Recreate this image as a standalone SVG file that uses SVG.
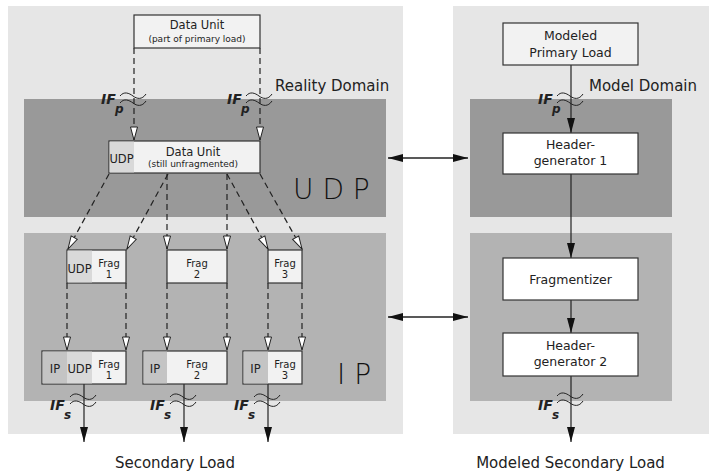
<svg xmlns="http://www.w3.org/2000/svg" width="709" height="472" viewBox="0 0 709 472">
<style>
text{font-family:"DejaVu Sans","Liberation Sans",sans-serif;fill:#222}
.panel{fill:#e6e6e6}
.udpband{fill:#999}
.ipband{fill:#b3b3b3}
.box{fill:#f2f2f2;stroke:#333;stroke-width:1.2}
.wbox{fill:#fff;stroke:#333;stroke-width:1.2}
.cudp{fill:#d9d9d9}
.cip{fill:#c4c4c4}
.t12{font-size:11.5px;text-anchor:middle}
.t9{font-size:9px;text-anchor:middle}
.tf{font-size:10px;text-anchor:middle}
.tr{font-size:12.5px;text-anchor:middle}
.big{font-size:28px;font-weight:200;fill:#111}
.dom{font-size:15px}
.if{font-size:14px;font-weight:bold;font-style:italic}
.sub{font-size:12px;font-weight:bold;font-style:italic}
.dash{fill:none;stroke:#222;stroke-width:1.2;stroke-dasharray:6,4;marker-end:url(#hollow)}
.solid{fill:none;stroke:#222;stroke-width:1.2;marker-end:url(#solid)}
.dbl{fill:none;stroke:#222;stroke-width:1.6;marker-end:url(#solid);marker-start:url(#solidS)}
.sq{fill:none;stroke:#222;stroke-width:1}
</style>
<defs>
<marker id="hollow" markerUnits="userSpaceOnUse" markerWidth="15" markerHeight="9" refX="13.5" refY="4.5" orient="auto" overflow="visible"><path d="M0.5,1 L13.5,4.5 L0.5,8 z" fill="#fff" stroke="#222" stroke-width="1"/></marker>
<marker id="solid" markerUnits="userSpaceOnUse" markerWidth="16" markerHeight="8" refX="15" refY="4" orient="auto" overflow="visible"><path d="M0,0 L15,4 L0,8 z" fill="#111"/></marker>
<marker id="solidS" markerUnits="userSpaceOnUse" markerWidth="16" markerHeight="8" refX="0" refY="4" orient="auto" overflow="visible"><path d="M15,0 L0,4 L15,8 z" fill="#111"/></marker>
<path id="sq" class="sq" d="M-14,-3 C-10,-8 -5,-6 -1,-3 S8,1 12,-5 M-14,4 C-10,-1 -5,1 -1,4 S8,8 12,2"/>
</defs>

<g id="reality-domain">
<rect class="panel" x="8" y="6" width="395" height="428"/>
<rect class="udpband" x="24" y="99" width="362" height="118"/>
<rect class="ipband" x="24" y="233" width="362" height="168"/>
<text class="dom" x="275" y="91">Reality Domain</text>
<text class="big" x="293" y="199">U D P</text>
<text class="big" x="337" y="384">I P</text>
</g>

<g id="model-domain">
<rect class="panel" x="453" y="6" width="256" height="428"/>
<rect class="udpband" x="470" y="99" width="202" height="118"/>
<rect class="ipband" x="470" y="233" width="202" height="168"/>
<text class="dom" x="589" y="91">Model Domain</text>
</g>

<g id="connectors">
<line class="dash" x1="134" y1="48" x2="134" y2="140"/>
<line class="dash" x1="260" y1="48" x2="260" y2="140"/>
<line class="dash" x1="109" y1="174" x2="68" y2="249"/>
<line class="dash" x1="168" y1="174" x2="127" y2="249"/>
<line class="dash" x1="167" y1="174" x2="167" y2="249"/>
<line class="dash" x1="227" y1="174" x2="227" y2="249"/>
<line class="dash" x1="227" y1="174" x2="268" y2="249"/>
<line class="dash" x1="260" y1="174" x2="302" y2="249"/>
<line class="dash" x1="67" y1="283" x2="67" y2="350"/>
<line class="dash" x1="126" y1="283" x2="126" y2="350"/>
<line class="dash" x1="167" y1="283" x2="167" y2="350"/>
<line class="dash" x1="227" y1="283" x2="227" y2="350"/>
<line class="dash" x1="268" y1="283" x2="268" y2="350"/>
<line class="dash" x1="302" y1="283" x2="302" y2="350"/>
<line class="solid" x1="84" y1="384" x2="84" y2="442"/>
<line class="solid" x1="184" y1="384" x2="184" y2="442"/>
<line class="solid" x1="268" y1="384" x2="268" y2="442"/>
<line class="solid" x1="571" y1="65" x2="571" y2="133"/>
<line class="solid" x1="571" y1="174" x2="571" y2="258"/>
<line class="solid" x1="571" y1="300" x2="571" y2="333"/>
<line class="solid" x1="571" y1="376" x2="571" y2="442"/>
<line class="dbl" x1="388" y1="158" x2="468" y2="158"/>
<line class="dbl" x1="388" y1="317" x2="468" y2="317"/>
<use href="#sq" x="134" y="99"/>
<use href="#sq" x="260" y="99"/>
<use href="#sq" x="571" y="99"/>
<use href="#sq" x="84" y="400"/>
<use href="#sq" x="184" y="400"/>
<use href="#sq" x="268" y="400"/>
<use href="#sq" x="571" y="399"/>
<text class="if" x="101" y="104">IF</text><text class="sub" x="115" y="113">p</text>
<text class="if" x="227" y="104">IF</text><text class="sub" x="241" y="113">p</text>
<text class="if" x="538" y="104">IF</text><text class="sub" x="552" y="113">p</text>
<text class="if" x="50" y="410">IF</text><text class="sub" x="64" y="419">s</text>
<text class="if" x="150" y="410">IF</text><text class="sub" x="164" y="419">s</text>
<text class="if" x="234" y="410">IF</text><text class="sub" x="248" y="419">s</text>
<text class="if" x="538" y="410">IF</text><text class="sub" x="552" y="419">s</text>
</g>

<g id="data-unit-primary">
<rect class="box" x="134" y="15" width="126" height="33"/>
<text class="t12" x="197" y="29">Data Unit</text>
<text class="t9" x="197" y="42">(part of primary load)</text>
</g>

<g id="data-unit-udp">
<rect class="box" x="109" y="141" width="151" height="32"/>
<rect class="cudp" x="109.6" y="141.6" width="24.4" height="30.8"/>
<text class="t12" x="121.5" y="163">UDP</text>
<text class="t12" x="193" y="156">Data Unit</text>
<text class="t9" x="193" y="167">(still unfragmented)</text>
</g>

<g id="frag1">
<rect class="box" x="67" y="250" width="59" height="33"/>
<rect class="cudp" x="67.6" y="250.6" width="24.4" height="31.8"/>
<text class="t12" x="79.5" y="273">UDP</text>
<text class="tf" x="109" y="267">Frag</text>
<text class="tf" x="109" y="278">1</text>
</g>

<g id="frag2">
<rect class="box" x="167" y="250" width="60" height="33"/>
<text class="tf" x="197" y="267">Frag</text>
<text class="tf" x="197" y="278">2</text>
</g>

<g id="frag3">
<rect class="box" x="268" y="250" width="34" height="33"/>
<text class="tf" x="285" y="267">Frag</text>
<text class="tf" x="285" y="278">3</text>
</g>

<g id="ip-frag1">
<rect class="box" x="42" y="351" width="84" height="33"/>
<rect class="cip" x="42.6" y="351.6" width="24.4" height="31.8"/>
<rect class="cudp" x="67" y="351.6" width="25" height="31.8"/>
<text class="t12" x="55" y="373">IP</text>
<text class="t12" x="79.5" y="373">UDP</text>
<text class="tf" x="109" y="368">Frag</text>
<text class="tf" x="109" y="379">1</text>
</g>

<g id="ip-frag2">
<rect class="box" x="143" y="351" width="84" height="33"/>
<rect class="cip" x="143.6" y="351.6" width="23.4" height="31.8"/>
<text class="t12" x="155" y="373">IP</text>
<text class="tf" x="197" y="368">Frag</text>
<text class="tf" x="197" y="379">2</text>
</g>

<g id="ip-frag3">
<rect class="box" x="243" y="351" width="59" height="33"/>
<rect class="cip" x="243.6" y="351.6" width="24.4" height="31.8"/>
<text class="t12" x="255.5" y="373">IP</text>
<text class="tf" x="285" y="368">Frag</text>
<text class="tf" x="285" y="379">3</text>
</g>

<g id="modeled-primary-load">
<rect class="box" x="503" y="23" width="135" height="42"/>
<text class="tr" x="570.5" y="40">Modeled</text>
<text class="tr" x="570.5" y="57">Primary Load</text>
</g>

<g id="header-generator-1">
<rect class="wbox" x="503" y="133" width="135" height="41"/>
<text class="tr" x="570.5" y="149">Header-</text>
<text class="tr" x="570.5" y="165">generator 1</text>
</g>

<g id="fragmentizer">
<rect class="wbox" x="503" y="258" width="135" height="42"/>
<text class="tr" x="570.5" y="284">Fragmentizer</text>
</g>

<g id="header-generator-2">
<rect class="wbox" x="503" y="333" width="135" height="43"/>
<text class="tr" x="570.5" y="350">Header-</text>
<text class="tr" x="570.5" y="366">generator 2</text>
</g>

<g id="labels">
<text class="dom" x="175" y="468" text-anchor="middle">Secondary Load</text>
<text class="dom" x="570.5" y="468" text-anchor="middle">Modeled Secondary Load</text>
</g>
</svg>
